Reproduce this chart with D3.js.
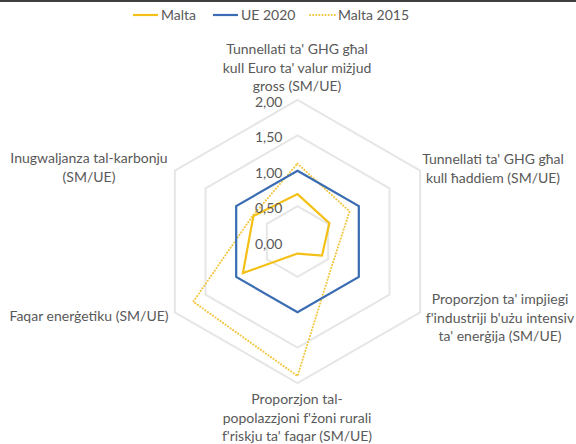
<!DOCTYPE html>
<html>
<head>
<meta charset="utf-8">
<script src="https://cdn.jsdelivr.net/npm/d3@7"></script>
<style>
  body { margin: 0; background: #fff; }
  text { font-family: Lato, "Open Sans", sans-serif; fill: #595959; }
</style>
</head>
<body>
<div id="graph"></div>
<script>
// axes, clockwise from the top
var axes = [
    ["Tunnellati ta' GHG għal", "kull Euro ta' valur miżjud", "gross (SM/UE)"],
    ["Tunnellati ta' GHG għal", "kull ħaddiem (SM/UE)"],
    ["Proporzjon ta' impjiegi", "f'industriji b'użu intensiv", "ta' enerġija (SM/UE)"],
    ["Proporzjon tal-", "popolazzjoni f'żoni rurali", "f'riskju ta' faqar (SM/UE)"],
    ["Faqar enerġetiku (SM/UE)"],
    ["Inugwaljanza tal-karbonju", "(SM/UE)"]
];
var malta     = [0.67, 0.52, 0.40, 0.17, 0.89, 0.72];
var ue2020    = [1.00, 1.00, 1.00, 1.00, 1.00, 1.00];
var malta2015 = [1.10, 0.85, 0.58, 1.90, 1.70, 0.73];
var ticks = [0, 0.5, 1, 1.5, 2];
var seriesNames = ["Malta", "UE 2020", "Malta 2015"];

var W = 576, H = 444;
var cx = 297.5, cy = 241.5;

var r = d3.scaleLinear().domain([0, 2]).range([0, 141.6]);
var ang = function(i) { return i * 2 * Math.PI / axes.length; };
var fmt = function(v) { return d3.format(".2f")(v).replace(".", ","); };

var svg = d3.select("#graph").append("svg")
    .attr("width", W)
    .attr("height", H);

// top rule
svg.append("line")
    .attr("x1", 0).attr("x2", W).attr("y1", 1).attr("y2", 1)
    .attr("stroke", "#000").attr("stroke-width", 1.6);

var g = svg.append("g")
    .attr("transform", "translate(" + cx + "," + cy + ")");

var radial = d3.lineRadial()
    .angle(function(d, i) { return ang(i); })
    .radius(function(d) { return r(d); })
    .curve(d3.curveLinearClosed);

// grid hexagons
g.selectAll(".grid")
    .data(ticks.filter(function(t) { return t > 0; }))
    .enter().append("path")
    .attr("class", "grid")
    .attr("d", function(t) { return radial(axes.map(function() { return t; })); })
    .attr("fill", "none")
    .attr("stroke", "#e6e6e6")
    .attr("stroke-width", 2);

// series
g.append("path")
    .attr("d", radial(malta2015))
    .attr("fill", "none")
    .attr("stroke", "#f2c53d")
    .attr("stroke-width", 2)
    .attr("stroke-dasharray", "0.1 3")
    .attr("stroke-linecap", "round");

g.append("path")
    .attr("d", radial(ue2020))
    .attr("fill", "none")
    .attr("stroke", "#3a6db4")
    .attr("stroke-width", 2.2);

g.append("path")
    .attr("d", radial(malta))
    .attr("fill", "none")
    .attr("stroke", "#f5c016")
    .attr("stroke-width", 2.2);

// tick labels
g.selectAll(".tick")
    .data(ticks)
    .enter().append("text")
    .attr("class", "tick")
    .attr("x", -15)
    .attr("y", function(t) { return -r(t) + 7; })
    .attr("text-anchor", "end")
    .style("font-size", "14px")
    .text(fmt);

// axis labels
var labelPos = [
    {x: 297, y: 54},
    {x: 493, y: 164},
    {x: 500, y: 304},
    {x: 297, y: 404},
    {x: 89,  y: 321},
    {x: 89,  y: 163}
];
axes.forEach(function(lines, i) {
    var t = svg.append("text")
        .attr("text-anchor", "middle")
        .style("font-size", "14px");
    lines.forEach(function(s, j) {
        t.append("tspan")
            .attr("x", labelPos[i].x)
            .attr("y", labelPos[i].y + j * 18.5)
            .text(s);
    });
});

// legend
var legX = [133, 213, 310];
var legStyle = [
    {c: "#f5c016", dash: null, w: 2.2},
    {c: "#3a6db4", dash: null, w: 2.2},
    {c: "#f2c53d", dash: "0.1 3", w: 2}
];
seriesNames.forEach(function(name, i) {
    var lg = svg.append("g").attr("transform", "translate(" + legX[i] + ",15)");
    lg.append("line")
        .attr("x1", 0).attr("x2", 25).attr("y1", 0).attr("y2", 0)
        .attr("stroke", legStyle[i].c)
        .attr("stroke-width", legStyle[i].w)
        .attr("stroke-dasharray", legStyle[i].dash)
        .attr("stroke-linecap", legStyle[i].dash ? "round" : "butt");
    lg.append("text")
        .attr("x", 28).attr("y", 5)
        .style("font-size", "14px")
        .text(name);
});
</script>
</body>
</html>
